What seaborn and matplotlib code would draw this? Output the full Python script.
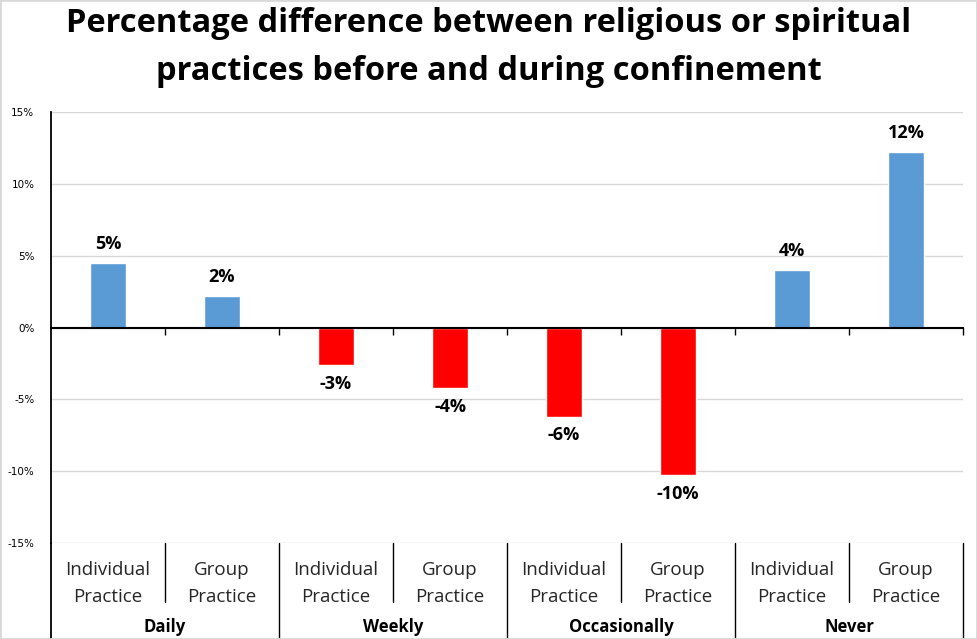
import matplotlib
matplotlib.use("Agg")
import matplotlib.pyplot as plt
import matplotlib.transforms as mtransforms
from matplotlib.patches import Rectangle
import seaborn as sns
import pandas as pd

# data
frequencies = ["Daily", "Weekly", "Occasionally", "Never"]
practices = ["Individual\nPractice", "Group\nPractice"]
values = [4.5, 2.2, -2.6, -4.2, -6.2, -10.3, 4.0, 12.2]
value_labels = ["5%", "2%", "-3%", "-4%", "-6%", "-10%", "4%", "12%"]
y_ticks = [-15, -10, -5, 0, 5, 10, 15]

BLUE = "#5B9BD5"
RED = "#FF0000"

sns.set_theme(style="white")
plt.rcParams["font.family"] = ["Open Sans", "DejaVu Sans"]
plt.rcParams["text.color"] = "black"

df = pd.DataFrame({
    "pos": [f"{f}|{p}" for f in frequencies for p in practices],
    "value": values,
})
colors = [BLUE if v >= 0 else RED for v in values]

fig = plt.figure(figsize=(9.77, 6.39), dpi=100)
ax = fig.add_axes([51 / 977, 96 / 639, 912 / 977, 431 / 639])

sns.barplot(data=df, x="pos", y="value", hue="pos", palette=colors,
            width=0.315, legend=False, saturation=1, ax=ax)

ax.set_xlim(-0.5, 7.5)
ax.set_ylim(-15, 15)
ax.set_yticks(y_ticks)
ax.set_yticklabels([f"{t}%" for t in y_ticks], fontsize=7.5, family="DejaVu Sans",
                   color="black")
ax.tick_params(axis="y", length=0, pad=12)
ax.yaxis.grid(True, color="#D9D9D9", linewidth=1)
ax.set_axisbelow(True)
ax.set_xlabel("")
ax.set_ylabel("")

# zero line acts as the x axis, with ticks between categories
for s in ["top", "right"]:
    ax.spines[s].set_visible(False)
ax.spines["left"].set_color("black")
ax.spines["left"].set_linewidth(1.3)
ax.spines["bottom"].set_position(("data", 0))
ax.spines["bottom"].set_color("black")
ax.spines["bottom"].set_linewidth(1.5)
ax.set_xticks([i + 0.5 for i in range(8)])
ax.set_xticklabels([""] * 8)
ax.tick_params(axis="x", direction="out", length=5, width=1, color="black", bottom=True)

# value labels
for i, (v, lab) in enumerate(zip(values, value_labels)):
    off = 13.5 if v >= 0 else -13.5
    ax.annotate(lab, xy=(i, v), xytext=(0, off), textcoords="offset points",
                ha="center", va="center", fontsize=13, fontweight="bold")

# two-level category axis below the plot
trans = mtransforms.blended_transform_factory(ax.transData, ax.transAxes)
for gi, f in enumerate(frequencies):
    for pi, p in enumerate(practices):
        ax.text(gi * 2 + pi, -0.095, p, transform=trans, ha="center", va="center",
                fontsize=13.5, color="#262626", linespacing=1.65)
    ax.text(gi * 2 + 0.5, -0.195, f, transform=trans, ha="center", va="center",
            fontsize=12, fontweight="bold", color="black")
    ax.plot([gi * 2 + 0.5] * 2, [0, -0.138], transform=trans, color="black",
            linewidth=1, clip_on=False)
    ax.plot([gi * 2 + 1.5] * 2, [0, -0.225], transform=trans, color="black",
            linewidth=1, clip_on=False)
ax.plot([-0.5, -0.5], [0, -0.225], transform=trans, color="black",
        linewidth=1.3, clip_on=False)

fig.suptitle("Percentage difference between religious or spiritual\n"
             "practices before and during confinement",
             x=0.5, y=0.989, va="top", fontsize=23.5, fontweight="bold",
             linespacing=1.58, color="black")

fig.patches.append(Rectangle((0, 0), 1, 1, transform=fig.transFigure, fill=False,
                             edgecolor="#D9D9D9", linewidth=2))

plt.savefig("out.png", dpi=100)
